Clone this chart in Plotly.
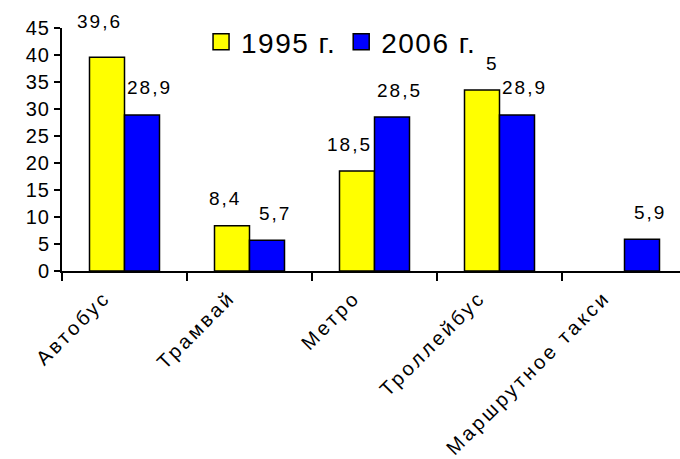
import plotly.graph_objects as go

categories = ["Автобус", "Трамвай", "Метро", "Троллейбус", "Маршрутное такси"]
values_1995 = [39.6, 8.4, 18.5, 33.5, None]
values_2006 = [28.9, 5.7, 28.5, 28.9, 5.9]
labels_1995 = ["39,6", "8,4", "18,5", "5", ""]
labels_2006 = ["28,9", "5,7", "28,5", "28,9", "5,9"]
y_ticks = [0, 5, 10, 15, 20, 25, 30, 35, 40, 45]

FONT = "Liberation Sans, Arial, sans-serif"
YELLOW = "#FFFF00"
BLUE = "#0000FF"


def spaced(text, px):
    return f'<span style="letter-spacing:{px}px">{text}</span>'


fig = go.Figure()
fig.add_trace(go.Bar(x=categories, y=values_1995, marker=dict(color=YELLOW, line=dict(color="black", width=1.5)),
                     showlegend=False, offsetgroup="a"))
fig.add_trace(go.Bar(x=categories, y=values_2006, marker=dict(color=BLUE, line=dict(color="black", width=1.5)),
                     showlegend=False, offsetgroup="b"))

# legend entries with larger square swatches
for name, color in [("1995 г.", YELLOW), ("2006 г.", BLUE)]:
    fig.add_trace(go.Scatter(x=[None], y=[None], mode="markers", name=spaced(name, 1.5),
                             marker=dict(symbol="square", size=20, color=color,
                                         line=dict(color="black", width=1.5))))

# value labels above bars
for i, cat in enumerate(categories):
    for vals, labs, shift in [(values_1995, labels_1995, -0.2), (values_2006, labels_2006, 0.2)]:
        if vals[i] is None or not labs[i]:
            continue
        fig.add_annotation(x=i + shift, y=vals[i], text=spaced(labs[i], 2), showarrow=False,
                           yshift=27 if vals[i] < 39 else 36,
                           xshift=18 if labs[i] == "5" else 0,
                           xref="x", yref="y",
                           font=dict(family=FONT, size=19, color="black"))

fig.update_layout(
    width=680, height=459,
    margin=dict(l=62, r=0, t=28, b=188, autoexpand=False),
    paper_bgcolor="white", plot_bgcolor="white",
    barmode="group", bargap=0.44, bargroupgap=0,
    font=dict(family=FONT, color="black"),
    legend=dict(orientation="h", x=0.225, y=1.045, xanchor="left", yanchor="top",
                font=dict(family=FONT, size=28), bgcolor="rgba(0,0,0,0)",
                itemwidth=30, tracegroupgap=0),
)
fig.update_xaxes(
    type="category", range=[-0.5, 4.444], automargin=False,
    tickvals=categories, ticktext=[spaced(c, 3) for c in categories],
    showline=True, linecolor="black", linewidth=2,
    ticks="outside", tickson="boundaries", ticklen=8, tickwidth=2, tickcolor="black",
    tickangle=-45, tickfont=dict(family=FONT, size=20), showgrid=False,
    ticklabelshift=-20, ticklabelstandoff=5,
)
fig.update_yaxes(
    range=[0, 45], tickvals=y_ticks, ticktext=[spaced(t, 1) for t in y_ticks],
    automargin=False,
    showline=True, linecolor="black", linewidth=2,
    ticks="outside", ticklen=6, tickwidth=2, tickcolor="black",
    tickfont=dict(family=FONT, size=20), showgrid=False, zeroline=False,
)

fig.write_html("out.html")
